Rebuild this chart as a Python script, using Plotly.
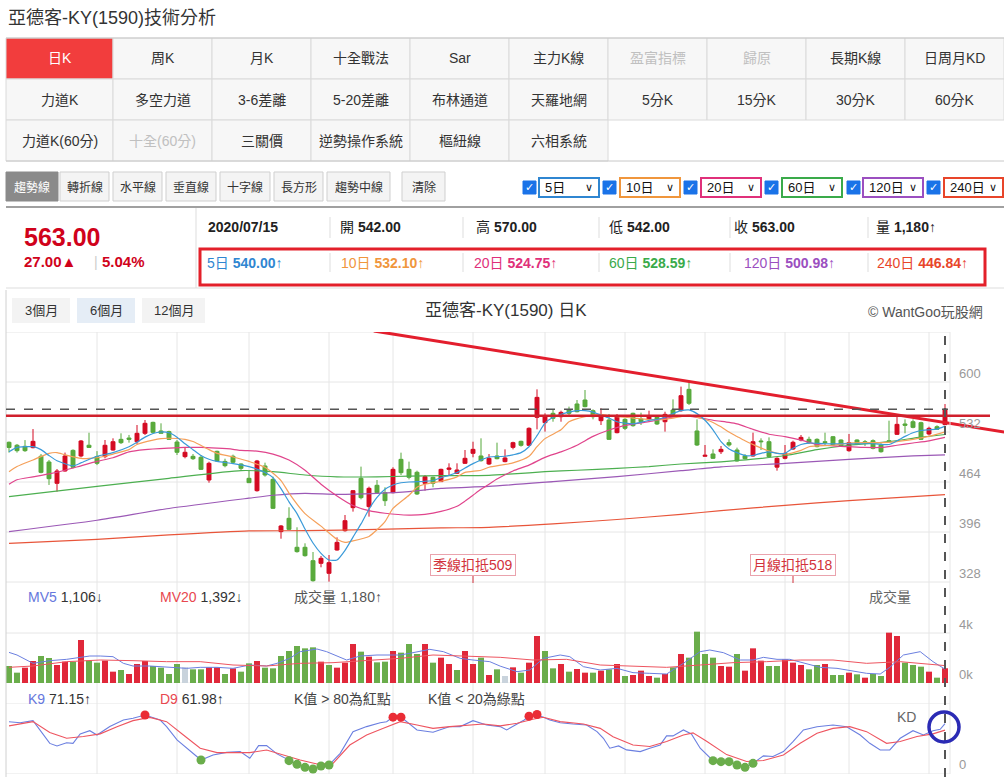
import plotly.graph_objects as go

W, H = 1004, 777
FONT = "Liberation Sans, Noto Sans CJK TC, sans-serif"

# ---------------- data ----------------
opens = [518, 514, 512.5, 510.7, 499, 491.2, 462.2, 479, 507, 499.4,
         514, 498.5, 498.5, 507.5, 522, 523.8, 518.8, 530.2, 545.1, 533.4,
         532.5, 518.4, 498.5, 498.9, 497.6, 466.7, 505.7, 492, 499, 488.5,
         469, 452.2, 485.8, 467.6, 396.5, 414.6, 375.2, 375.2, 357, 353.4,
         339.8, 371.5, 397.8, 429.1, 469, 430.5, 459.5, 449.5, 449.5, 494.8,
         481.2, 477.2, 462.2, 470.4, 464.5, 481.2, 475.8, 489.4, 503, 499.4,
         488.5, 499.4, 491.7, 511.1, 519.3, 513.9, 551.9, 544.7, 557.4, 552.8,
         561.9, 570.1, 575.5, 561, 547.4, 548.3, 531.1, 549.2, 557.4, 549.7,
         549.7, 551.9, 546, 561.9, 561, 590, 533.4, 499, 502.1, 505.2,
         517.5, 507.5, 499.4, 499.4, 519.8, 518.8, 484.2, 496.2, 508.9, 521.1,
         522, 522, 518.8, 525.6, 521.1, 506.6, 521.1, 518.8, 520.2, 514.3,
         520.2, 528.8, 542.9, 546, 544.7, 529.3, 539.2, 542]
highs = [519, 515.7, 521, 536, 502, 494, 481.7, 504, 508.4, 521.1,
         531, 506, 521.1, 523.4, 530.2, 528, 541.5, 548.3, 546, 543.8,
         533.8, 521.1, 511.2, 502, 500.7, 491.6, 506.6, 495.7, 501.2, 489.4,
         479.4, 494, 490.3, 471.3, 405.5, 429.6, 402.4, 380.6, 368.8, 363.4,
         364.7, 388.7, 419.1, 453.1, 484.9, 457.7, 466.7, 456.8, 484, 503.9,
         491.7, 479.4, 473.5, 471.3, 482.1, 489.4, 489.4, 507.5, 518.8, 523.4,
         502, 517.5, 508.4, 518.8, 520.2, 538.3, 590, 557.4, 562.8, 561,
         566.5, 575.5, 589.1, 562.8, 564.2, 556.5, 556.5, 550.6, 558.3, 558.3,
         561, 555.1, 559.6, 576.4, 593.7, 600.5, 549.2, 514.3, 508.4, 513,
         522, 510.7, 502, 531.1, 523.4, 524.7, 497.6, 514.3, 520.2, 527.9,
         525.6, 523.4, 531.1, 526.6, 522, 529.3, 522, 521.1, 522, 516.6,
         547.4, 552.8, 549.2, 549.2, 546, 539.2, 541.1, 570]
lows = [504, 504, 505, 509.8, 475.8, 460, 450.9, 478, 482.6, 497.6,
        510.7, 487, 496.2, 506.6, 515.7, 517.5, 515.7, 527.9, 530.2, 530.2,
        521.1, 500.7, 496.2, 494, 480.3, 463.1, 491.6, 484, 489.4, 479.4,
        463, 450.9, 471.3, 427.3, 386.9, 398.7, 367.9, 362.5, 328.5, 348,
        328.5, 370.6, 396.5, 423.7, 440.4, 416.9, 447.7, 431.4, 448.6, 473.5,
        467.6, 446.3, 452.2, 456.8, 464, 472.2, 474.9, 488.5, 497.6, 491.7,
        487.1, 494.8, 490.8, 508.4, 512.1, 513, 535.6, 532.5, 546, 546,
        555.1, 558.7, 565.6, 549.2, 541.5, 521.1, 530.2, 534.7, 539.2, 541.5,
        547.4, 541.5, 532.5, 555.1, 559.6, 568.7, 513, 498.5, 495.3, 502.1,
        512.1, 491.7, 494.8, 498.5, 507.5, 497.6, 479.4, 494.8, 507.5, 519.3,
        515.7, 511.1, 514.3, 513, 512.1, 505.2, 514.3, 513, 508.4, 503.9,
        518.8, 527.9, 530.2, 537, 521.1, 527.5, 534.7, 542]
closes = [511, 506.6, 506.6, 519.3, 477.1, 468.5, 479, 499.4, 484, 519.8,
          511, 489.4, 513.9, 518.8, 517.5, 522, 530.2, 543.8, 531.5, 530.2,
          522, 504.4, 504.4, 495.7, 481.2, 489.4, 492.6, 486.2, 490.8, 482.6,
          463.1, 492.6, 473.5, 428.2, 404.2, 399.6, 369.3, 363.8, 329.8, 360.2,
          354.3, 381.9, 411.4, 452.2, 442.7, 455.4, 449.5, 438.6, 481.2, 476.7,
          470.4, 447.7, 471.3, 462.2, 481.2, 483, 480.3, 496.2, 508.4, 493,
          496.2, 495.7, 496.7, 517.5, 513.9, 537, 579.1, 552.8, 550.6, 558.7,
          557.4, 559.6, 566.5, 552.8, 552.8, 522, 553.7, 537, 540.6, 546,
          553.7, 542.9, 556, 556, 581.4, 571, 514.3, 500.3, 496.2, 508.4,
          514.3, 492.6, 495.7, 518.8, 518.8, 498.5, 496.2, 503, 518, 524.7,
          517.5, 512.1, 517.5, 514.3, 513, 517.5, 515.7, 517.5, 509.8, 505.2,
          518.8, 542.4, 541.1, 538.3, 522, 537, 535.6, 563]
volumes = [1360, 827, 1227, 1760, 2160, 2000, 1440, 1707, 1707, 3440,
           1787, 1627, 1787, 907, 1040, 720, 1520, 1760, 1360, 1227,
           720, 1520, 1253, 1093, 1093, 1253, 1253, 720, 1173, 907,
           1573, 1760, 1227, 1173, 2160, 2560, 2960, 2773, 2853, 1707,
           1440, 1227, 1627, 3120, 2507, 2107, 1653, 1707, 2560, 2427,
           3120, 2320, 3120, 1627, 2027, 1520, 1040, 2560, 1520, 2027,
           640, 1093, 560, 1253, 827, 1627, 3760, 2560, 1173, 1520,
           907, 1120, 827, 827, 987, 1093, 1520, 560, 640, 987,
           560, 427, 720, 1253, 2320, 2027, 4107, 2320, 2027, 1360,
           1307, 2320, 987, 2773, 1787, 1360, 1360, 1893, 1627, 1440,
           1093, 1440, 1520, 640, 640, 827, 693, 427, 720, 560,
           4027, 3760, 1627, 1440, 1307, 907, 427, 1180]
vol_dir = ("ggrrggrrgr" "ggrrgrrrgg" "ggnggrrgrg" "grgggggggr" "grrrgrggrg"
           "ggrgrrgrrg" "rgnrgrrggr" "grrgrgrgrr" "rgrgrggggr" "rgrrrggrrr"
           "ggrggrgrgg" "rrgggrgr")

ma5_idx = [0, 1, 3, 4, 5, 6, 8, 9, 11, 13, 15, 16, 17, 18, 19, 20, 21, 22, 23, 24,
           25, 26, 28, 30, 32, 33, 34, 35, 36, 37, 38, 39, 40, 41, 42, 43, 44, 45, 46, 47,
           48, 49, 50, 52, 53, 54, 55, 56, 57, 58, 59, 60, 62, 63, 64, 65, 66, 67, 68, 69,
           70, 71, 72, 73, 74, 75, 76, 77, 78, 79, 80, 81, 82, 83, 84, 85, 86, 87, 88, 89,
           90, 91, 92, 93, 94, 95, 96, 97, 98, 99, 100, 102, 104, 106, 108, 110, 111, 112, 113, 114,
           115, 116, 117]
ma5_val = [505, 511, 512, 508, 500, 493, 486, 490, 499, 504, 512, 518, 525, 530, 532, 531, 525, 516, 508, 500,
           495, 492, 489, 485, 477, 470, 455, 437, 421, 400, 381, 367, 358, 358, 371, 389, 407, 427, 443, 454,
           460, 463, 464, 465, 466, 470, 473, 477, 483, 489, 494, 498, 499, 501, 504, 512, 527, 544, 552, 556,
           559, 561, 561, 559, 555, 551, 546, 544, 543, 545, 548, 549, 552, 557, 561, 562, 557, 548, 535, 519,
           509, 504, 500, 500, 503, 505, 503, 503, 510, 515, 517, 516, 516, 516, 516, 515, 520, 526, 531, 534,
           535, 536, 540.00]
ma10_idx = [0, 1, 3, 5, 6, 7, 9, 10, 12, 13, 15, 16, 18, 19, 20, 22, 23, 25, 26, 28,
            30, 32, 34, 35, 37, 39, 41, 42, 43, 45, 46, 47, 48, 50, 51, 52, 54, 56, 57, 59,
            60, 63, 65, 66, 67, 69, 70, 72, 74, 75, 78, 80, 82, 84, 85, 87, 88, 89, 90, 91,
            92, 93, 95, 97, 99, 100, 103, 105, 107, 109, 111, 113, 115, 117]
ma10_val = [478, 485, 494, 503, 504, 501, 496, 496, 499, 502, 508, 515, 521, 523, 523.5, 522, 519, 508, 503, 498,
            492, 484, 466, 449, 421, 404, 386, 382, 384, 390, 399, 410, 428, 446, 457, 461, 465, 471, 477, 480,
            484, 490, 499, 512, 523, 535, 546, 553, 556, 554, 551, 549, 549, 553, 555, 549, 545, 539, 532, 526,
            520, 515, 506, 502, 507, 512, 514, 517, 517.5, 517.5, 519, 522, 526, 532.10]
ma20_idx = [0, 1, 3, 5, 7, 9, 11, 13, 15, 17, 20, 22, 24, 26, 28, 29, 31, 33, 35, 37,
            39, 41, 43, 45, 47, 50, 52, 54, 56, 57, 58, 59, 60, 61, 63, 65, 67, 69, 71, 73,
            75, 77, 80, 82, 84, 86, 88, 90, 91, 93, 95, 97, 99, 101, 103, 105, 107, 109, 111, 113,
            115, 117]
ma20_val = [461, 467, 471, 475, 480, 486, 492, 497, 505, 508, 510, 511, 511, 510, 508.5, 507, 506, 502, 494, 480,
            461, 445, 432, 425, 421.5, 419, 420, 424, 431, 438, 446, 454, 461, 468, 479, 487, 497.5, 505, 514, 526,
            534.7, 541, 546, 550.6, 553.7, 552, 548, 545, 543, 535.6, 529, 525.6, 521, 515, 513, 512, 511, 511, 514, 517,
            520, 524.75]
ma60_idx = [0, 11, 20, 29, 33, 37, 41, 46, 50, 54, 60, 63, 67, 71, 76, 80, 84, 89, 93, 97, 101, 105, 110, 114, 117]
ma60_val = [444, 458, 469, 479.5, 478, 473.5, 471, 471, 472, 472.6, 473, 475, 478, 480, 482.6, 485, 488.5, 491.5,
            495, 500, 508, 514, 519, 525, 528.59]
ma120_idx = [0, 11, 20, 30, 33, 37, 41, 46, 50, 54, 60, 68, 76, 84, 89, 97, 105, 113, 117]
ma120_val = [396.5, 412, 428, 442, 446, 448.6, 447.2, 448.6, 451, 455.4, 458, 464.5, 471.3, 479.4, 484.5, 489.4,
             494.8, 499.4, 500.98]
ma240_idx = [0, 11, 20, 30, 37, 46, 54, 60, 68, 76, 84, 89, 97, 105, 113, 117]
ma240_val = [380.6, 386, 392, 397.4, 397.8, 399.6, 401.5, 402.4, 407, 413, 420, 425, 432.3, 438.6, 444, 446.84]

mv5_idx = [0, 1, 3, 5.1, 7.2, 9.3, 10.1, 11.4, 13, 14.3, 15.5, 17.6, 19.7, 22.2, 23.9, 26, 28, 30.1, 32.2, 33.5,
           35.1, 36.4, 38.5, 39.7, 42.2, 43.9, 46, 48.9, 50.5, 52.6, 54.3, 56.4, 58, 60.1, 61.4, 63.5, 65.1, 66.8,
           68.9, 70.1, 71.8, 73.9, 76, 78, 80.1, 82.2, 84.3, 86.4, 87.6, 89.3, 91.4, 93, 94.3, 96, 97.6, 99.3,
           101.4, 103.5, 105.5, 107.2, 108.9, 110.1, 111.8, 113.9, 115.5, 117]
mv5_val = [2450, 2240, 1573, 1787, 1893, 2053, 2160, 2160, 2107, 1573, 1360, 1360, 1253, 1173, 1253, 1253, 1173,
           1440, 1360, 1573, 1973, 2507, 2720, 2507, 1840, 2160, 2240, 2240, 2427, 2693, 2507, 1973, 1840, 1707,
           1350, 907, 1040, 1973, 2240, 2107, 1307, 1040, 1173, 827, 773, 720, 1573, 2507, 2640, 2427, 1840, 1840,
           2053, 1893, 1893, 1627, 1253, 1173, 987, 773, 720, 1253, 2240, 2507, 1707, 1106]
mv20_idx = [0, 3, 7.2, 11.4, 15.5, 19.7, 23.9, 28, 32.2, 36.4, 40.5, 44.7, 48.9, 53, 57.2, 61.4, 65.5, 69.7,
            73.9, 78, 82.2, 86.4, 90.5, 94.7, 98.9, 103, 107.2, 111.4, 115.5, 117]
mv20_val = [1253, 1360, 1707, 1840, 1787, 1707, 1707, 1440, 1360, 1573, 1627, 1787, 1973, 2240, 2160, 2053, 1840,
            1893, 1440, 1360, 1253, 1440, 1627, 1707, 1840, 1840, 1573, 1707, 1520, 1392]

k_idx = [0, 1.4, 3, 4.3, 5.1, 6, 7.2, 8, 8.9, 10.1, 11, 12.6, 14.3, 15.5, 17, 18.9, 19.7, 21, 22.2, 24,
         25.5, 27.2, 28.9, 30.1, 31.2, 32.2, 33.5, 34.5, 35, 36, 37, 38, 39, 40, 41.4, 43, 44.7, 46.4, 47.2, 48,
         49, 51, 53, 55.1, 56.4, 58, 59.7, 61.4, 62.2, 63.5, 64.4, 65, 66, 67.6, 68.9, 70.5, 72.2, 73.5, 74.3, 75.1,
         76.2, 77.2, 78.9, 80.1, 81.4, 82.2, 83, 84.3, 85.3, 86.4, 87.2, 88, 89, 90, 91, 92, 93, 94.3, 95.5, 96.8,
         98, 99.3, 101, 103, 104.7, 106.4, 107.6, 108.9, 110.1, 111.4, 113, 114.3, 115.5, 116.4, 117]
k_val = [74, 72.6, 75.5, 55, 43, 39.3, 44, 43, 56.4, 61.2, 55, 67, 76.4, 79, 83.6, 76.4, 67, 48, 36, 19.3,
         26.4, 30.2, 31.2, 21.7, 39.8, 39.8, 28, 22, 18.3, 13.1, 8.8, 6.4, 10.7, 12.1, 28.8, 59.8, 67, 72.6, 74, 80.5,
         80.5, 62.2, 59, 67, 67, 75.5, 69.3, 67, 62.2, 70.7, 76.4, 81.9, 84.3, 76.4, 72.6, 70.7, 69.3, 59.8, 50.3, 36.1,
         39.4, 33.7, 31.3, 36.1, 40.8, 53.7, 53.7, 62.2, 56.5, 36.1, 27, 18.3, 16.9, 16.9, 12.1, 8.8, 14.5, 25.2, 24.3, 31.4,
         45.6, 62.2, 66.9, 69.3, 66.9, 55, 43.1, 33.6, 33.6, 50.3, 61.2, 55, 61.2, 63.1, 71.15]
d_idx = [0, 3, 5.1, 7.2, 9.3, 11.4, 13.5, 15.5, 17.6, 19.7, 21.8, 23.9, 26, 28, 30.1, 32.2, 34.3, 36.4, 38.5, 40.5,
         42.6, 44.7, 46.8, 48.9, 51, 53, 55.1, 57.2, 59.3, 61.4, 63.5, 65.5, 66.8, 68.9, 71.8, 73.9, 75.5, 78, 80.1, 82.2,
         84.3, 85.5, 87.2, 89.7, 92.2, 94.3, 96.8, 98.9, 101, 103, 105.1, 107.2, 109.7, 111.4, 113.5, 115.5, 117]
d_val = [68, 74.1, 58.5, 50.4, 52.8, 56.6, 66.9, 75.5, 80.2, 74.1, 55, 36, 29.8, 29.8, 29.8, 33.6, 26.4, 19.3, 13.6, 14.5,
         40.7, 55, 64.5, 74.1, 69.3, 64.5, 66.9, 69.3, 70.7, 68, 71.7, 77.4, 80.3, 74.1, 70.7, 64.5, 52.6, 40.8, 38.5, 45.6,
         55, 58, 46, 27, 17.1, 18.5, 26.5, 43.1, 57.4, 64.5, 66.9, 59.8, 43.1, 45.6, 52.8, 56.6, 61.98]

grid_idx = [11, 21, 30, 40, 48, 58, 67, 77, 87, 97, 105, 115]
price_ticks = [328, 396, 464, 532, 600, 668]
vol_ticks = [0, 4000]
vol_tick_text = ["0k", "4k"]
hline_price = 554
trend_idx = [45.6, 124.4]
trend_price = [669.4, 532]
deduct_idx = [58, 98]
deduct_text = ["季線扣抵509", "月線扣抵518"]

tab_rows_labels = [
    ["日K", "周K", "月K", "十全戰法", "Sar", "主力K線", "盈富指標", "歸原", "長期K線", "日周月KD"],
    ["力道K", "多空力道", "3-6差離", "5-20差離", "布林通道", "天羅地網", "5分K", "15分K", "30分K", "60分K"],
    ["力道K(60分)", "十全(60分)", "三關價", "逆勢操作系統", "樞紐線", "六相系統"],
]
disabled_tabs = {"盈富指標", "歸原", "十全(60分)"}
tool_buttons = ["趨勢線", "轉折線", "水平線", "垂直線", "十字線", "長方形", "趨勢中線", "清除"]
ma_selects = ["5日", "10日", "20日", "60日", "120日", "240日"]
ma_colors = ["#2f86d1", "#f0963c", "#e0307a", "#3aaa4a", "#9b4fc0", "#e8452a"]
info_row1 = [("", "2020/07/15"), ("開", "542.00"), ("高", "570.00"), ("低", "542.00"), ("收", "563.00"), ("量", "1,180↑")]
info_ma = [("5日", "540.00↑"), ("10日", "532.10↑"), ("20日", "524.75↑"), ("60日", "528.59↑"), ("120日", "500.98↑"), ("240日", "446.84↑")]

# ---------------- helpers ----------------
def PX(x):
    return x / W


def PY(y):
    return 1 - y / H


shapes, anns = [], []


def prect(x0, y0, x1, y1, fill, line="rgba(0,0,0,0)", lw=0):
    shapes.append(dict(type="rect", xref="paper", yref="paper", x0=PX(x0), x1=PX(x1), y0=PY(y1), y1=PY(y0),
                       fillcolor=fill, line=dict(color=line, width=lw), layer="below"))


def pline(x0, y0, x1, y1, color, lw=1, dash="solid"):
    shapes.append(dict(type="line", xref="paper", yref="paper", x0=PX(x0), x1=PX(x1), y0=PY(y0), y1=PY(y1),
                       line=dict(color=color, width=lw, dash=dash)))


def ptext(x, y, s, size=14, color="#333", xanchor="left", family=FONT, **kw):
    anns.append(dict(xref="paper", yref="paper", x=PX(x), y=PY(y), text=s, showarrow=False, xanchor=xanchor,
                     yanchor="middle", font=dict(size=size, color=color, family=family), **kw))


# ---------------- page header ----------------
ptext(6, 18, "亞德客-KY(1590)技術分析", size=18, color="#333")

cols = [6, 113, 212, 311, 410, 509, 608, 707, 806, 905, 1004]
rows = [38, 79, 120, 161]
for r, labels in enumerate(tab_rows_labels):
    for j, lab in enumerate(labels):
        active = (r == 0 and j == 0)
        prect(cols[j], rows[r], cols[j + 1], rows[r + 1], "#f23d3d" if active else "#f7f7f7", "#dadada", 1)
        col = "#ffffff" if active else ("#c0c0c0" if lab in disabled_tabs else "#333")
        ptext((cols[j] + cols[j + 1]) / 2, (rows[r] + rows[r + 1]) / 2, lab, size=14, color=col, xanchor="center")
pline(6, 38, 1004, 38, "#c8c8c8", 1)
pline(6, 161, 1004, 161, "#c8c8c8", 1)

btn_x = [(6, 58), (60, 109), (113, 162), (166, 216), (220, 270), (274, 323), (327, 390), (402, 445)]
for k, lab in enumerate(tool_buttons):
    x0, x1 = btn_x[k]
    sel = k == 0
    prect(x0, 172, x1, 201, "#8a8a8a" if sel else "#f4f4f4", "#8a8a8a" if sel else "#cfcfcf", 1)
    ptext((x0 + x1) / 2, 187, lab, size=12, color="#fff" if sel else "#333", xanchor="center")

sel_x = [(529, 539, 599), (609, 620, 680), (690, 701, 761), (771, 782, 842), (853, 863, 923), (933, 944, 1003)]
for k, lab in enumerate(ma_selects):
    cb, x0, x1 = sel_x[k]
    prect(cb - 6, 181, cb + 7, 194, "#1a73e8", "#1a73e8", 1)
    ptext(cb + 0.5, 187.5, "✓", size=11, color="#fff", xanchor="center", family="DejaVu Sans")
    prect(x0, 178, x1, 197, "#ffffff", ma_colors[k], 2)
    ptext(x0 + 4, 187.5, lab, size=13, color="#111")
    ptext(x1 - 10, 187.5, "∨", size=11, color="#111", xanchor="center", family="DejaVu Sans")

pline(6, 207, 1004, 207, "#a0a0a0", 2)

# ---------------- info panel ----------------
pline(196, 208, 196, 288, "#dddddd", 1)
pline(6, 288, 1004, 288, "#dddddd", 1)
ptext(22, 237, "<b>" + f"{closes[-1]:.2f}" + "</b>", size=25, color="#d0021b")
ptext(22, 262, "<b>27.00▲</b>", size=15, color="#d0021b")
ptext(92, 262, "|", size=14, color="#cccccc")
ptext(100, 262, "<b>5.04%</b>", size=15, color="#d0021b")

row_x = [206, 338, 474, 607, 732, 874]
for k, (lab, val) in enumerate(info_row1):
    s = ("<b>" + val + "</b>") if lab == "" else (lab + " <b>" + val + "</b>")
    ptext(row_x[k], 227, s, size=14, color="#222")
sep_x = [330, 463, 599, 730, 868]
for sx in sep_x:
    pline(sx, 217, sx, 238, "#dddddd", 1)
    pline(sx, 253, sx, 272, "#dddddd", 1)
prect(200, 249, 985, 285, "rgba(0,0,0,0)", "#e3202a", 3)
ma_txt_x = [205, 339, 472, 607, 742, 875]
for k, (lab, val) in enumerate(info_ma):
    ptext(ma_txt_x[k], 263, lab + " <b>" + val.replace("↑", "") + "</b>↑", size=14, color=ma_colors[k])

# ---------------- chart panel header ----------------
pline(6, 290, 6, 777, "#d0d0d0", 1)
period_btns = [("3個月", 12, 70, "#f3f3f3"), ("6個月", 77, 135, "#e5edf6"), ("12個月", 142, 205, "#f3f3f3")]
for lab, x0, x1, fc in period_btns:
    prect(x0, 298, x1, 323, fc)
    ptext((x0 + x1) / 2, 311, lab, size=13, color="#333", xanchor="center")
ptext(506, 311, "亞德客-KY(1590) 日K", size=17, color="#333", xanchor="center")
ptext(985, 312, "© WantGoo玩股網", size=14, color="#555", xanchor="right")

# ---------------- grids ----------------
for t in price_ticks:
    shapes.append(dict(type="line", xref="paper", yref="y", x0=PX(6), x1=PX(950), y0=t, y1=t,
                       line=dict(color="#e6e6e6", width=1), layer="below"))
    if t != price_ticks[-1]:
        anns.append(dict(xref="paper", yref="y", x=PX(957), y=t, yshift=9, text=str(t), showarrow=False,
                         xanchor="left", yanchor="middle", font=dict(size=13, color="#999", family=FONT)))
for t, tt in zip(vol_ticks, vol_tick_text):
    shapes.append(dict(type="line", xref="paper", yref="y2", x0=PX(6), x1=PX(950), y0=t, y1=t,
                       line=dict(color="#e6e6e6", width=1), layer="below"))
    anns.append(dict(xref="paper", yref="y2", x=PX(957), y=t, yshift=9, text=tt, showarrow=False,
                     xanchor="left", yanchor="middle", font=dict(size=13, color="#999", family=FONT)))
for t in [0, 100]:
    shapes.append(dict(type="line", xref="paper", yref="y3", x0=PX(6), x1=PX(950), y0=t, y1=t,
                       line=dict(color="#e6e6e6", width=1), layer="below"))
anns.append(dict(xref="paper", yref="y3", x=PX(957), y=0, yshift=9, text="0", showarrow=False,
                 xanchor="left", yanchor="middle", font=dict(size=13, color="#999", family=FONT)))
for gi in grid_idx:
    shapes.append(dict(type="line", xref="x", yref="paper", x0=gi, x1=gi, y0=PY(774), y1=PY(332),
                       line=dict(color="#e6e6e6", width=1), layer="below"))
pline(950, 332, 950, 774, "#e6e6e6", 1)

# reference lines
shapes.append(dict(type="line", xref="paper", yref="y", x0=PX(6), x1=PX(990), y0=hline_price, y1=hline_price,
                   line=dict(color="#d0202c", width=2.5)))
shapes.append(dict(type="line", xref="paper", yref="y", x0=PX(6), x1=PX(948), y0=closes[-1], y1=closes[-1],
                   line=dict(color="#555", width=1.5, dash="dash")))
shapes.append(dict(type="line", xref="x", yref="paper", x0=len(closes) - 1, x1=len(closes) - 1,
                   y0=PY(777), y1=PY(332), line=dict(color="#555", width=2, dash="dash")))

for di, dt in zip(deduct_idx, deduct_text):
    anns.append(dict(xref="x", yref="paper", x=di, y=PY(565), text=dt, showarrow=False, xanchor="center",
                     yanchor="middle", bgcolor="#ffffff", bordercolor="#eaa3ad", borderwidth=1, borderpad=2,
                     font=dict(size=14, color="#d2323c", family=FONT)))
    shapes.append(dict(type="line", xref="x", yref="paper", x0=di, x1=di, y0=PY(583), y1=PY(576),
                       line=dict(color="#d2323c", width=1)))

# volume / KD texts
ptext(26, 597, "<span style='color:#6677dd'>MV5</span> 1,106↓", size=14, color="#333")
ptext(158, 597, "<span style='color:#e8474f'>MV20</span> 1,392↓", size=14, color="#333")
ptext(292, 597, "成交量 1,180↑", size=14, color="#555")
ptext(867, 597, "成交量", size=14, color="#666")
ptext(26, 699, "<span style='color:#6677dd'>K9</span> 71.15↑", size=14, color="#333")
ptext(158, 699, "<span style='color:#e8474f'>D9</span> 61.98↑", size=14, color="#333")
ptext(292, 699, "K值 > 80為紅點", size=14, color="#444")
ptext(426, 699, "K值 < 20為綠點", size=14, color="#444")
ptext(895, 717, "KD", size=14, color="#666")
shapes.append(dict(type="circle", xref="paper", yref="paper", x0=PX(929), x1=PX(959), y0=PY(742), y1=PY(712),
                   line=dict(color="#2b2bb5", width=3.5)))

# ---------------- traces ----------------
idx = list(range(len(closes)))
traces = []
ma_sets = [(ma240_idx, ma240_val, "#e8553a"), (ma120_idx, ma120_val, "#9b59b6"), (ma60_idx, ma60_val, "#4caf50"),
           (ma20_idx, ma20_val, "#e0448c"), (ma10_idx, ma10_val, "#f5a05a"), (ma5_idx, ma5_val, "#3a9ad9")]
for xi, yv, c in ma_sets:
    traces.append(go.Scatter(x=xi, y=yv, mode="lines", line=dict(color=c, width=1.2, shape="spline", smoothing=0.6),
                             xaxis="x", yaxis="y", hoverinfo="skip"))
traces.append(go.Candlestick(x=idx, open=opens, high=highs, low=lows, close=closes, xaxis="x", yaxis="y",
                             increasing=dict(line=dict(color="#d40a22", width=1), fillcolor="#d40a22"),
                             decreasing=dict(line=dict(color="#55a83a", width=1), fillcolor="#5aaa3c"),
                             whiskerwidth=0))
traces.append(go.Scatter(x=trend_idx, y=trend_price, mode="lines", line=dict(color="#e31e2d", width=3),
                         xaxis="x", yaxis="y", hoverinfo="skip"))
cmap = {"r": "#e0283a", "g": "#6aad4b", "n": "#c9d3dc"}
traces.append(go.Bar(x=idx, y=volumes, marker=dict(color=[cmap[c] for c in vol_dir], line=dict(width=0)),
                     width=0.75, xaxis="x2", yaxis="y2"))
traces.append(go.Scatter(x=mv5_idx, y=mv5_val, mode="lines", line=dict(color="#6b7fe0", width=1),
                         xaxis="x2", yaxis="y2"))
traces.append(go.Scatter(x=mv20_idx, y=mv20_val, mode="lines", line=dict(color="#ee5560", width=1),
                         xaxis="x2", yaxis="y2"))
traces.append(go.Scatter(x=k_idx, y=k_val, mode="lines", line=dict(color="#6b7fe0", width=1.1),
                         xaxis="x3", yaxis="y3"))
traces.append(go.Scatter(x=d_idx, y=d_val, mode="lines", line=dict(color="#ee5560", width=1.1),
                         xaxis="x3", yaxis="y3"))
hi = [(x, v) for x, v in zip(k_idx, k_val) if v > 80]
lo = [(x, v) for x, v in zip(k_idx, k_val) if v < 20]
traces.append(go.Scatter(x=[p[0] for p in hi], y=[p[1] for p in hi], mode="markers",
                         marker=dict(color="#ea2c35", size=9), xaxis="x3", yaxis="y3", cliponaxis=False))
traces.append(go.Scatter(x=[p[0] for p in lo], y=[p[1] for p in lo], mode="markers",
                         marker=dict(color="#6aad4b", size=9), xaxis="x3", yaxis="y3", cliponaxis=False))

fig = go.Figure(traces)
xr = [-0.375, 124.375]
xcommon = dict(range=xr, showgrid=False, zeroline=False, showticklabels=False, ticks="", showline=False,
               domain=[PX(6), 1], fixedrange=True)
fig.update_layout(
    width=W, height=H, margin=dict(l=0, r=0, t=0, b=0), autosize=False,
    paper_bgcolor="#ffffff", plot_bgcolor="rgba(0,0,0,0)", showlegend=False,
    font=dict(family=FONT),
    xaxis=dict(**xcommon, rangeslider=dict(visible=False)),
    xaxis2=dict(**xcommon, matches="x"),
    xaxis3=dict(**xcommon, matches="x"),
    yaxis=dict(domain=[PY(583), PY(332)], range=[326.64, 668], showgrid=False, zeroline=False,
               showticklabels=False, fixedrange=True),
    yaxis2=dict(domain=[PY(683), PY(583)], range=[0, 8000], showgrid=False, zeroline=False,
                showticklabels=False, fixedrange=True),
    yaxis3=dict(domain=[PY(773.5), PY(703.5)], range=[0, 100], showgrid=False, zeroline=False,
                showticklabels=False, fixedrange=True),
    shapes=shapes, annotations=anns, hovermode=False,
)
fig.write_html("out.html")
